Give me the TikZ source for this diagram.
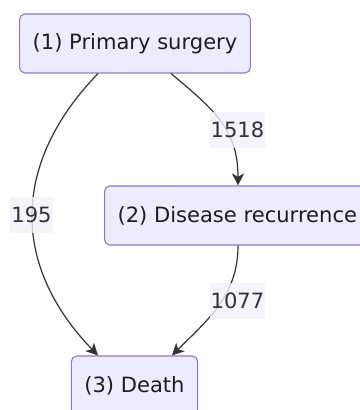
\documentclass[tikz,border=0pt]{standalone}
\usepackage{fontspec}
\setmainfont{DejaVu Sans}
\usetikzlibrary{arrows.meta}
\definecolor{boxfill}{HTML}{ECECFF}
\definecolor{boxline}{HTML}{9370DB}
\definecolor{edge}{HTML}{333333}
\definecolor{ink}{HTML}{1E1E1A}
\definecolor{lblfill}{HTML}{F1F1FB}
\begin{document}
\begin{tikzpicture}[x=0.75pt, y=0.75pt, >={Stealth[length=9pt,width=9pt,inset=2.5pt]},
  state/.style={rectangle, rounded corners=4pt, draw=boxline, line width=0.8pt, fill=boxfill,
    text=ink, font=\fontsize{15.8pt}{19pt}\selectfont, inner xsep=9.75pt, minimum height=44.25pt},
  count/.style={fill=lblfill, fill opacity=0.8, text opacity=1, text=edge,
    font=\fontsize{15.8pt}{19pt}\selectfont, inner xsep=0.75pt, inner ysep=0pt, minimum height=27pt},
  flow/.style={->, draw=edge, line width=0.9pt}]
\useasboundingbox (0,0) rectangle (360,-410);
\node (surg) at (135,-43.5) [state, minimum width=172.5pt] {(1) Primary surgery};
\node (recur) at (104,-215.5) [state, anchor=west] {(2) Disease recurrence};
\node (death) at (134.5,-385.5) [state, minimum width=93.75pt] {(3) Death};
\draw[flow] ([xshift=-27.75pt]surg.south) to [out=226,in=134,looseness=1.14] ([xshift=-27.4pt]death.north);
\draw[flow] ([xshift=27pt]surg.south) to [out=-40,in=90,looseness=1.1] ([xshift=100.5pt]recur.north west);
\draw[flow] ([xshift=100.5pt]recur.south west) to [out=-90,in=45] ([xshift=28.1pt]death.north);
\node (n195) at (31.5,-215) [count] {195};
\node (n1518) at (237.5,-129.5) [count] {1518};
\node (n1077) at (237.5,-300.5) [count] {1077};
\end{tikzpicture}
\end{document}
